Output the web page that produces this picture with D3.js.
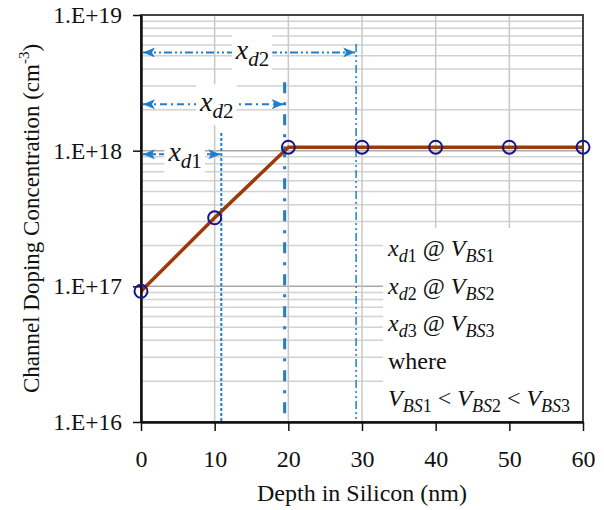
<!DOCTYPE html>
<html>
<head>
<meta charset="utf-8">
<script src="https://cdn.jsdelivr.net/npm/d3@7"></script>
<style>
  body { margin: 0; background: #fff; }
  svg text { font-family: "Liberation Serif", "Times New Roman", serif !important; fill: #111; }
</style>
</head>
<body>
<div id="chart"></div>
<script>
// data
let depth = [0, 10, 20, 30, 40, 50, 60];
let doping = [9.2e16, 3.2e17, 1.06e18, 1.06e18, 1.06e18, 1.06e18, 1.06e18];
let xTicks = [0, 10, 20, 30, 40, 50, 60];
let yTicks = [1e16, 1e17, 1e18, 1e19];
let yTickLabels = ["1.E+16", "1.E+17", "1.E+18", "1.E+19"];

// depletion widths: end depth, level of arrow, top of vertical marker, label subscript
let spanEnd = [10.9, 19.5, 29.2];
let spanLevel = [9.4e17, 2.2e18, 5.3e18];
let spanTop = [1.35e18, 3.2e18, 6.1e18];
let spanLabel = ["d1", "d2", "d2"];

let legendRows = [["d1", "BS1"], ["d2", "BS2"], ["d3", "BS3"]];

let width = 604, height = 510;
let margin = {left: 141, right: 21, top: 15, bottom: 88};
let blue = "#1f7dcc";
let serif = '"Liberation Serif", "Times New Roman", serif';

let svg = d3.select("#chart").append("svg")
    .attr("width", width)
    .attr("height", height)
    .style("font-family", serif);

let x = d3.scaleLinear().domain([0, 60]).range([margin.left, width - margin.right]);
let y = d3.scaleLog().domain([1e16, 1e19]).range([height - margin.bottom, margin.top]);

let defs = svg.append("defs");
defs.append("marker")
    .attr("id", "arrow")
    .attr("viewBox", "0 0 12 10")
    .attr("refX", 12).attr("refY", 5)
    .attr("markerWidth", 12).attr("markerHeight", 10)
    .attr("markerUnits", "userSpaceOnUse")
    .attr("orient", "auto-start-reverse")
    .append("path")
    .attr("d", "M0,0 L12,5 L0,10 L3,5 Z")
    .attr("fill", blue);

// grid
let grid = svg.append("g");
let minor = [];
for (let e = 16; e < 19; e++) {
    for (let m = 2; m <= 9; m++) minor.push(m * Math.pow(10, e));
}
grid.selectAll(".minor").data(minor).enter().append("line")
    .attr("x1", x(0)).attr("x2", x(60))
    .attr("y1", d => y(d)).attr("y2", d => y(d))
    .attr("stroke", "#d2d2d2").attr("stroke-width", 1.5);
grid.selectAll(".major").data(yTicks).enter().append("line")
    .attr("x1", x(0)).attr("x2", x(60))
    .attr("y1", d => y(d)).attr("y2", d => y(d))
    .attr("stroke", "#a9a9a9").attr("stroke-width", 1.5);
grid.selectAll(".vgrid").data(xTicks).enter().append("line")
    .attr("x1", d => x(d)).attr("x2", d => x(d))
    .attr("y1", y(1e16)).attr("y2", y(1e19))
    .attr("stroke", "#c8c8c8").attr("stroke-width", 1.5);

// white box behind the legend text
svg.append("rect")
    .attr("x", 383).attr("y", 228)
    .attr("width", x(60) - 383).attr("height", y(1e16) - 228)
    .attr("fill", "#fff");

// vertical depletion markers
let vStyles = [
    {dash: "3,2", w: 2},
    {dash: "11,9,3,9", w: 3},
    {dash: "8,3,2,3,2,3", w: 1.5}
];
let vlines = svg.append("g");
spanEnd.forEach(function(d, i) {
    vlines.append("line")
        .attr("x1", x(d)).attr("x2", x(d))
        .attr("y1", y(spanTop[i])).attr("y2", y(1e16))
        .attr("stroke", blue)
        .attr("stroke-width", vStyles[i].w)
        .attr("stroke-dasharray", vStyles[i].dash);
});

// horizontal arrows with labels
let hStyles = ["5,3", "7,4,2,4", "8,3,2,3,2,3"];
let arrows = svg.append("g");
spanEnd.forEach(function(d, i) {
    let yy = y(spanLevel[i]);
    arrows.append("line")
        .attr("x1", x(0) + 2).attr("x2", x(d) - 1)
        .attr("y1", yy).attr("y2", yy)
        .attr("stroke", blue).attr("stroke-width", 2)
        .attr("stroke-dasharray", hStyles[i])
        .attr("marker-start", "url(#arrow)")
        .attr("marker-end", "url(#arrow)");
    let g = arrows.append("g");
    let t = g.append("text")
        .attr("x", (x(0) + x(d)) / 2 + 4)
        .attr("y", yy + 7)
        .attr("text-anchor", "middle")
        .style("font-size", "28px");
    t.append("tspan").style("font-style", "italic").text("x");
    t.append("tspan").style("font-style", "italic").style("font-size", "21px")
        .attr("dy", 7).text(spanLabel[i][0]);
    t.append("tspan").style("font-size", "21px").text(spanLabel[i].slice(1));
    let bb = t.node().getBBox();
    g.insert("rect", "text")
        .attr("x", bb.x - 3).attr("y", bb.y - 2)
        .attr("width", bb.width + 6).attr("height", bb.height + 4)
        .attr("fill", "#fff");
});

// doping profile
let line = d3.line().x((d, i) => x(depth[i])).y(d => y(d));
svg.append("path")
    .datum(doping)
    .attr("d", line)
    .attr("fill", "none")
    .attr("stroke", "#9c3a0b")
    .attr("stroke-width", 3.5);

// frame
svg.append("rect")
    .attr("x", x(0)).attr("y", y(1e19))
    .attr("width", x(60) - x(0)).attr("height", y(1e16) - y(1e19))
    .attr("fill", "none").attr("stroke", "#444").attr("stroke-width", 2);

// axes
let xAxis = svg.append("g")
    .attr("transform", `translate(0, ${y(1e16)})`)
    .call(d3.axisBottom(x).tickValues(xTicks).tickSize(9).tickSizeOuter(0)
        .tickPadding(19).tickFormat(d3.format("d")));
xAxis.attr("font-family", null);
xAxis.select(".domain").attr("stroke", "#111").attr("stroke-width", 2.5);
xAxis.selectAll(".tick line").attr("stroke", "#111").attr("stroke-width", 1.5);
xAxis.selectAll("text").style("font-size", "24px").style("font-family", serif).attr("fill", "#111");

let yAxis = svg.append("g")
    .attr("transform", `translate(${x(0)}, 0)`)
    .call(d3.axisLeft(y).tickValues(yTicks).tickSize(8).tickSizeOuter(0).tickPadding(11)
        .tickFormat((d, i) => yTickLabels[i]));
yAxis.attr("font-family", null);
yAxis.select(".domain").attr("stroke", "#111").attr("stroke-width", 2.5);
yAxis.selectAll(".tick line").attr("stroke", "#111").attr("stroke-width", 1.5);
yAxis.selectAll("text").style("font-size", "23.5px").style("font-family", serif).attr("fill", "#111");

// markers
svg.selectAll(".pt").data(doping).enter().append("circle")
    .attr("cx", (d, i) => x(depth[i]))
    .attr("cy", d => y(d))
    .attr("r", 6.5)
    .attr("fill", "none")
    .attr("stroke", "#15158a")
    .attr("stroke-width", 2);

// legend text
let lx = 388, ly0 = 256, ldy = 37.5;
let leg = svg.append("g").style("font-size", "24px");
legendRows.forEach(function(r, i) {
    let t = leg.append("text").attr("x", lx).attr("y", ly0 + i * ldy);
    t.append("tspan").style("font-style", "italic").text("x");
    t.append("tspan").style("font-style", "italic").style("font-size", "18px").attr("dy", 6).text(r[0][0]);
    t.append("tspan").style("font-size", "18px").text(r[0].slice(1));
    t.append("tspan").attr("dy", -6).text(" @ ");
    t.append("tspan").style("font-style", "italic").text("V");
    t.append("tspan").style("font-style", "italic").style("font-size", "18px").attr("dy", 6).text(r[1].slice(0, 2));
    t.append("tspan").style("font-size", "18px").text(r[1].slice(2));
});
leg.append("text").attr("x", lx).attr("y", ly0 + 3 * ldy).text("where");
let cmp = leg.append("text").attr("x", lx).attr("y", ly0 + 4 * ldy);
legendRows.forEach(function(r, i) {
    if (i > 0) cmp.append("tspan").attr("dy", -6).text(" < ");
    cmp.append("tspan").style("font-style", "italic").text("V");
    cmp.append("tspan").style("font-style", "italic").style("font-size", "18px").attr("dy", 6).text(r[1].slice(0, 2));
    cmp.append("tspan").style("font-size", "18px").text(r[1].slice(2));
});

// axis titles
svg.append("text")
    .attr("x", x(30)).attr("y", 501)
    .attr("text-anchor", "middle")
    .style("font-size", "24px")
    .text("Depth in Silicon (nm)");

let yt = svg.append("text")
    .attr("transform", `translate(39, ${(y(1e16) + y(1e19)) / 2}) rotate(-90)`)
    .attr("text-anchor", "middle")
    .style("font-size", "23px");
yt.append("tspan").text("Channel Doping Concentration (cm");
yt.append("tspan").style("font-size", "15px").attr("dy", -10).text("-3");
yt.append("tspan").attr("dy", 10).text(")");
</script>
</body>
</html>
